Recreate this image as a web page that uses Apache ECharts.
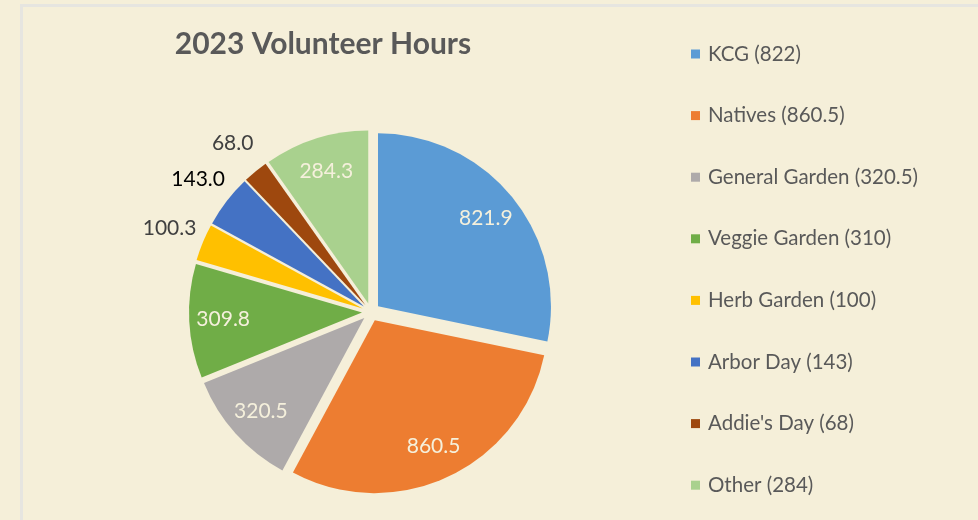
<!DOCTYPE html>
<html>
<head>
<meta charset="utf-8">
<script src="https://cdn.jsdelivr.net/npm/echarts@6/dist/echarts.min.js"></script>
<style>
  html, body { margin: 0; padding: 0; background: #F5EFD9; }
  #chart { width: 978px; height: 520px; }
</style>
</head>
<body>
<div id="chart"></div>
<script>
// ---- data ----
const categories = ['KCG', 'Natives', 'General Garden', 'Veggie Garden', 'Herb Garden', 'Arbor Day', "Addie's Day", 'Other'];
const hours = [821.9, 860.5, 320.5, 309.8, 100.3, 143.0, 68.0, 284.3];
const legendTotals = ['822', '860.5', '320.5', '310', '100', '143', '68', '284'];
const sliceColors = ['#5B9BD5', '#ED7D31', '#AEAAAA', '#70AD47', '#FFC000', '#4472C4', '#9E480E', '#A9D18E'];
const outsideLabel = [false, false, false, false, true, true, true, false];
const outsideLabelColors = ['#404040', '#404040', '#404040', '#404040', '#404040', '#000000', '#404040', '#404040'];

const FONT = 'Lato';
const chart = echarts.init(document.getElementById('chart'), null, { renderer: 'canvas' });

function buildData(kind) {
  return categories.map((name, i) => {
    const item = { name: name, value: hours[i], selected: true };
    if (kind === 'main') {
      item.itemStyle = { color: sliceColors[i] };
    } else {
      item.itemStyle = { color: 'rgba(0,0,0,0)' };
      const show = kind === 'inner' ? !outsideLabel[i] : outsideLabel[i];
      item.label = {
        show: show,
        color: kind === 'inner' ? '#F5F0DC' : outsideLabelColors[i]
      };
    }
    return item;
  });
}

const center = [371, 312];
const common = {
  type: 'pie',
  center: center,
  startAngle: 90,
  clockwise: true,
  selectedMode: 'multiple',
  selectedOffset: 9,
  avoidLabelOverlap: false,
  emphasis: { disabled: true },
  labelLine: { show: false },
  animation: false
};

const option = {
  backgroundColor: '#F5EFD9',
  animation: false,
  title: {
    text: '2023 Volunteer Hours',
    left: 318,
    top: 24,
    textAlign: 'center',
    textStyle: { fontFamily: FONT, fontWeight: 'bold', fontSize: 30, color: '#595959' }
  },
  legend: {
    orient: 'vertical',
    left: 686,
    top: 37,
    icon: 'rect',
    itemWidth: 9,
    itemHeight: 9,
    itemGap: 37.6,
    selectedMode: false,
    data: categories.map((n, i) => ({ name: n, itemStyle: { color: sliceColors[i] } })),
    formatter: function (name) {
      return name + ' (' + legendTotals[categories.indexOf(name)] + ')';
    },
    textStyle: { fontFamily: FONT, fontSize: 20.5, color: '#595959', lineHeight: 24, padding: [0, 0, 0, 3] }
  },
  graphic: [{
    type: 'rect',
    silent: true,
    shape: { x: 21.5, y: 5.5, width: 1000, height: 600 },
    style: { fill: 'none', stroke: '#E6E5E0', lineWidth: 3 }
  }],
  series: [
    Object.assign({}, common, {
      name: 'Hours',
      radius: [0, 173],
      label: { show: false },
      data: buildData('main')
    }),
    Object.assign({}, common, {
      name: 'InnerLabels',
      radius: [0, 272],
      silent: true,
      z: 3,
      label: {
        show: true,
        position: 'inside',
        fontFamily: FONT,
        fontSize: 21,
        formatter: p => p.value.toFixed(1)
      },
      data: buildData('inner')
    }),
    Object.assign({}, common, {
      name: 'OuterLabels',
      radius: [0, 412],
      silent: true,
      z: 3,
      label: {
        show: true,
        position: 'inside',
        fontFamily: FONT,
        fontSize: 21,
        formatter: p => p.value.toFixed(1)
      },
      data: buildData('outer')
    })
  ]
};
chart.setOption(option);
</script>
</body>
</html>
